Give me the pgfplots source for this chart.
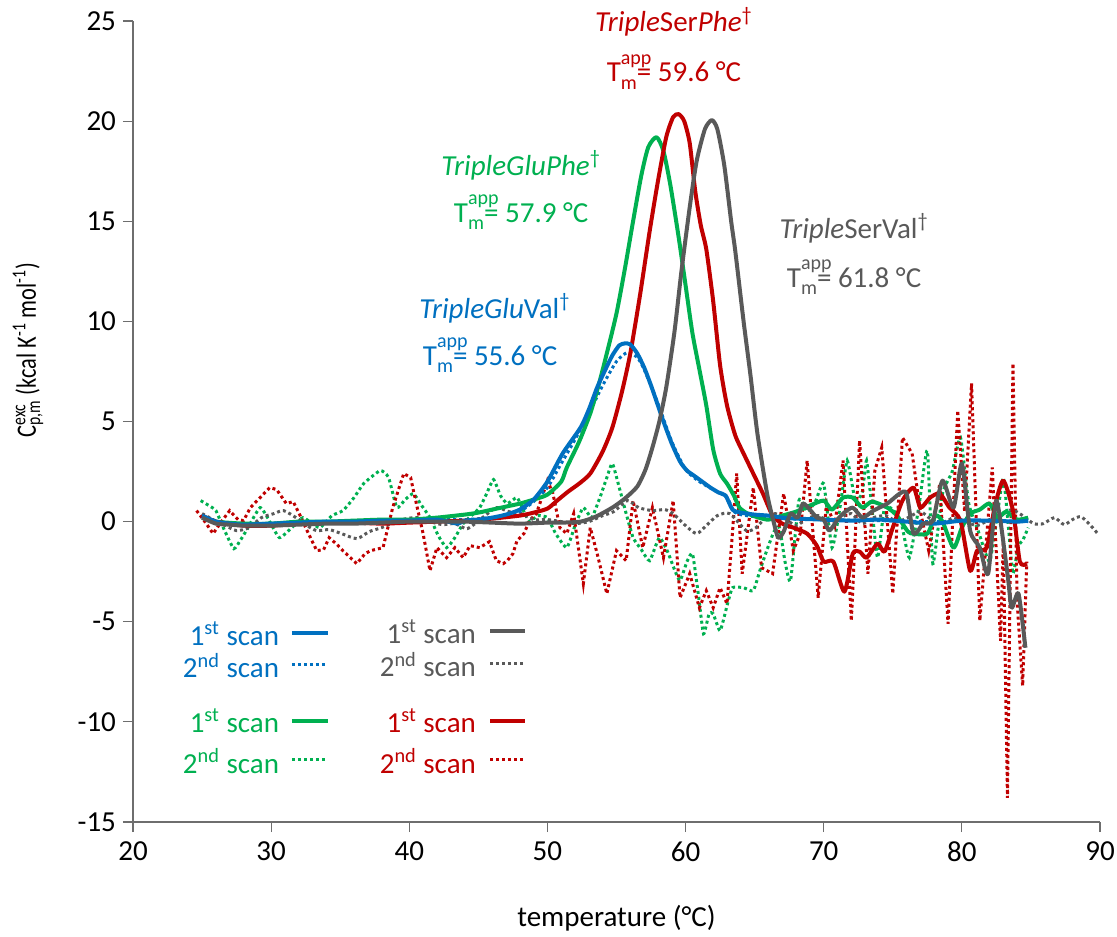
\documentclass[border=0pt]{standalone}
\usepackage{fontspec}
\setmainfont{Carlito}
\usepackage{graphicx}
\usepackage{pgfplots}
\pgfplotsset{compat=1.18}

\definecolor{cblue}{RGB}{0,112,192}
\definecolor{cgreen}{RGB}{0,176,80}
\definecolor{cred}{RGB}{192,0,0}
\definecolor{cgray}{RGB}{89,89,89}
\definecolor{axisgray}{RGB}{110,110,110}

\newcommand{\fs}{\fontsize{14.5}{17}\selectfont}
\newcommand{\sm}{\fontsize{10}{11}\selectfont}
\newcommand{\Tm}[1]{T\rlap{\raisebox{0.6em}{\sm app}}\raisebox{-0.25em}{\sm m}= #1 °C}

\tikzset{
  scan1/.style={line width=2pt, line join=round, smooth, tension=0.4},
  scan2/.style={line width=1.5pt, dash pattern=on 1.5pt off 1.5pt},
  leg/.style={font=\fs, anchor=east, inner xsep=0pt},
}

\begin{document}
\begin{tikzpicture}
\begin{axis}[
    at={(0,0)}, anchor=south west,
    scale only axis, width=483.5pt, height=400.5pt,
    xmin=20, xmax=90, ymin=-15, ymax=25,
    xtick={20,30,...,90}, ytick={-15,-10,...,25},
    axis x line*=bottom, axis y line*=left,
    axis line style={draw=axisgray, line width=0.6pt},
    tick style={draw=axisgray, line width=0.6pt},
    tick align=outside, major tick length=5pt,
    ticklabel style={font=\fs},
    xticklabel style={yshift=-1.5pt},
    /pgf/number format/assume math mode=true,
    xlabel={temperature (°C)},
    ylabel={\scalebox{0.8}[1]{C\rlap{\textsuperscript{exc}}\textsubscript{p,m} (kcal K\textsuperscript{-1} mol\textsuperscript{-1})}},
    xlabel style={font=\fs, at={(axis description cs:0.5,-0.12)}, anchor=center},
    ylabel style={font=\fontsize{14}{16}\selectfont, at={(axis description cs:-0.1086,0.589)}, anchor=center},
    clip=false,
]

% 2nd scans
\addplot[scan2, cgreen, smooth, tension=0.3] coordinates {
(24.9,1.05) (25.5,0.8) (26,0.55) (26.6,-0.4) (27.3,-1.35) (27.8,-0.9) (28.2,-0.45)
(29.2,0.7) (29.9,0.0) (30.6,-0.8) (31.5,-0.3) (32.3,0.2) (33.5,-0.3) (34.4,0.3)
(35.2,0.55) (36.0,1.2) (36.7,1.9) (37.9,2.55) (38.5,2.2) (39.1,0.7) (39.7,1.1)
(40.3,1.4) (40.9,0.8) (41.5,0.2) (42.1,-0.7) (42.7,-1.3) (43.3,-0.8) (43.9,-0.1)
(44.5,0.3) (45.1,0.7) (45.6,1.4) (46.1,2.1) (46.6,1.3) (47.1,0.9) (47.8,1.2)
(48.3,0.5) (48.7,0.0) (49.3,0.3) (50,0.2) (50.6,-0.6) (51.4,-1.3) (52,-0.2)
(52.6,0.7) (53.2,0.2) (53.8,1.2) (54.3,2.2) (54.7,2.9) (55.2,1.7) (55.7,0.4)
(56.2,-0.8) (56.8,-1.4) (57.4,-1.95) (58.1,-0.8) (58.7,-1.5) (59.2,-2.4) (59.6,-2.95)
(60.1,-2.0) (60.5,-1.6) (60.9,-3.5) (61.3,-5.6) (61.7,-4.6) (62.0,-4.6) (62.5,-5.45)
(63,-4.2) (63.4,-3.3) (64.2,-3.3) (64.9,-3.45) (65.4,-2.4) (65.9,-1.4) (66.4,-0.5)
(66.8,-0.3) (67.2,-2.0) (67.6,-2.95) (68.2,1.05) (68.8,0.5) (69.4,1.0) (70,1.9)
(70.6,-1.3) (71.2,0.8) (71.7,3.05) (72.3,1.0) (72.8,1.5) (73.1,3.05) (73.5,0.6)
(73.9,-1.8) (74.4,0.7) (75,0.6) (75.6,0.0) (76.2,-1.8) (76.9,0.8) (77.5,3.55)
(77.9,-2.1) (78.6,1.4) (79.3,2.5) (79.9,4.2) (80.5,0.9) (81.2,-0.5) (82,-2.0)
(82.5,0.0) (83,2.2) (83.4,-0.5) (83.7,-2.6) (84.1,-1.2) (84.4,-0.95) (84.8,-0.3)
};
\addplot[scan2, cred] coordinates {
(24.6,0.55) (25.2,0.0) (25.8,-0.6) (26.4,0.0) (27,0.55) (27.6,0.1) (28,0.05)
(28.5,0.7) (29.2,1.2) (29.9,1.7) (30.4,1.6) (31.1,0.9) (31.6,1.0) (32.1,0.3)
(32.6,-0.45) (33.3,-1.45) (33.8,-1.4) (34.2,-0.8) (34.7,-1.1) (35.2,-1.45) (36.2,-2.1)
(36.8,-1.6) (37.2,-1.45) (38.1,-1.3) (38.8,0.7) (39.6,2.4) (40.1,2.2) (40.3,1.55)
(41,-0.6) (41.5,-2.45) (42,-1.3) (42.7,-1.8) (43.3,-1.3) (43.9,-1.8) (44.4,-1.2)
(45.1,-1.3) (45.8,-1.0) (46.3,-1.95) (46.8,-2.1) (47.1,-1.95) (47.5,-1.6) (47.8,-0.95)
(48.3,-0.6) (48.7,0.05) (49.2,0.4) (49.6,1.2) (50,2.05) (50.4,1.4) (50.9,-0.3)
(51.4,-0.6) (51.9,0.4) (52.6,-3.1) (53.1,-0.3) (53.6,-1.6) (54.3,-3.6) (55,-1.45)
(55.7,-1.95) (56.2,1.05) (56.9,-1.3) (57.6,0.7) (58.4,-1.8) (59.1,1.05) (59.6,-3.8)
(60.3,-2.6) (61,-4.3) (61.5,-3.45) (62,-4.3) (62.5,-3.3) (63,-4.1) (63.4,-0.5)
(63.7,2.4) (64.1,-2.6) (64.9,1.7) (65.5,-2.3) (66.3,-2.6) (67.1,1.4) (67.8,-1.45)
(68.3,-0.6) (68.8,3.05) (69.6,-3.8) (70.2,0.9) (70.8,-0.2) (71.4,3.05) (72,-4.95)
(72.6,4.05) (73.2,-2.6) (73.7,2.55) (74.2,3.7) (75,-3.6) (75.7,4.2) (76.4,3.4)
(77,0.5) (77.6,-1.45) (78.4,1.9) (79,-5.1) (79.7,5.55) (80.2,0.5) (80.7,6.9)
(81.3,-4.95) (82.2,2.7) (82.8,-5.95) (83.0,-1.0) (83.3,-13.8) (83.7,7.9) (84.0,-4.0)
(84.4,-8.2) (84.7,-2.0)
};
\addplot[scan2, cgray, smooth, tension=0.4] coordinates {
(25,0.4) (25.8,0.1) (26.7,-0.2) (27.5,-0.45) (28.4,-0.3) (29.3,0.2) (30.2,0.4)
(30.9,0.55) (31.8,0.2) (32.6,-0.2) (33.3,-0.45) (34.2,-0.4) (35.1,-0.6) (36.2,-0.85)
(37.1,-0.5) (38.0,-0.3) (39,0.0) (39.8,0.15) (40.6,0.2) (41.5,0.0) (42.4,-0.15)
(43.3,-0.1) (44.2,-0.35) (45.3,0.2) (46.3,0.7) (47.2,0.5) (48.1,0.4) (49,0.1)
(50,0.1) (51,0.0) (52,-0.1) (53,0.0) (54,0.3) (54.8,0.5) (55.8,1.05) (56.6,0.7)
(57.6,0.55) (58.5,0.6) (59.1,0.4) (60,-0.2) (60.8,-0.6) (61.5,-0.2) (62.3,0.3)
(63.2,0.4) (64.4,-0.45) (65.1,-0.3) (65.8,0.2) (66.5,0.4) (67.3,0.1) (68,-0.2)
(68.8,0.15) (69.6,0.3) (70.4,0.0) (71.2,0.2) (72,0.4) (72.8,-0.1) (73.6,0.2)
(74.5,0.3) (75.3,0.0) (76.1,0.2) (77,0.5) (77.8,0.1) (78.6,-0.1) (79.4,0.2)
(80.3,0.0) (81.1,-0.2) (82,0.1) (82.8,0.3) (83.6,0.6) (84.4,0.3) (85.2,-0.1)
(85.9,-0.1) (86.7,0.2) (87.4,-0.15) (88.0,0.1) (88.6,0.25) (89.2,-0.1) (89.9,-0.65)
};
\addplot[scan2, cblue, smooth, tension=0.4] coordinates {
(25,0.2) (26,0.0) (28,-0.15) (30,-0.1) (32,-0.05) (34,0.0) (36,0.0) (38,0.05)
(40,0.05) (42,0.1) (44,0.1) (46,0.2) (47,0.3) (48,0.5) (49,1.0) (50,1.7) (51,2.9)
(52,4.1) (53,5.4) (54,6.8) (55,8.0) (55.8,8.45) (56.5,8.2) (57,7.6) (58,5.9)
(59,4.0) (60,2.6) (61,2.0) (62,1.6) (63,1.2) (63.5,0.5) (64,0.35) (65,0.25)
(67,0.15) (70,0.1) (74,0.05) (78,0.0) (82,0.05) (84.8,0.0)
};

% 1st scans
\addplot[scan1, cgreen] coordinates {
(25,0.2) (26,0.0) (28,-0.1) (30,-0.1) (32,0.0) (34,0.0) (36,0.05) (38,0.1)
(40,0.1) (42,0.2) (44,0.35) (45,0.45) (46,0.6) (47,0.75) (48,0.9) (49,1.1)
(50,1.35) (51,2.0) (51.4,2.7) (52.3,4.0) (53.1,5.4) (53.7,6.8) (54.3,8.4)
(55,10.4) (55.6,12.6) (56.2,15.0) (56.8,17.3) (57.3,18.7) (57.9,19.2) (58.4,18.5)
(58.9,16.8) (59.5,14.2) (60,11.8) (60.5,9.4) (61,7.6) (61.5,5.8) (62,3.6)
(62.5,2.4) (63,1.9) (63.5,1.3) (63.9,0.7) (64.5,0.4) (65.3,0.2) (66,0.1)
(67,0.3) (68,0.5) (69,0.8) (70,1.05) (70.6,0.6) (71.4,1.2) (72.1,1.2) (72.8,0.7)
(73.5,1.0) (74.6,0.7) (75.3,0.3) (76.1,-0.5) (76.5,-0.6) (77.5,-0.6) (78.1,0.3)
(78.6,0.0) (79.4,-1.3) (80,-0.3) (80.6,0.4) (81.3,0.6) (82,0.9) (82.6,0.2)
(83.2,0.5) (84,0.1) (84.8,0.2)
};
\addplot[scan1, cred] coordinates {
(25,0.3) (26,0.0) (28,-0.2) (30,-0.2) (32,-0.1) (34,-0.05) (36,-0.05) (38,-0.1)
(40,-0.05) (42,0.0) (44,0.05) (46,0.15) (48,0.3) (49,0.45) (50,0.65) (50.7,1.05)
(51.5,1.5) (52.3,1.9) (53.1,2.4) (54,3.5) (54.7,4.7) (55.4,6.5) (56,8.4)
(56.7,11.3) (57.4,14.5) (58,17.0) (58.6,19.2) (59.1,20.2) (59.5,20.35) (59.9,20.0)
(60.3,18.9) (60.7,16.5) (61.1,14.8) (61.5,13.6) (62,11.0) (62.5,7.8) (63,5.8)
(63.6,4.3) (64.2,3.4) (64.9,2.4) (65.6,1.4) (66.3,0.3) (67,-0.1) (67.8,-0.3)
(68.8,-0.6) (69.5,-1.2) (70,-2.0) (70.7,-2.0) (71.5,-3.5) (72.1,-1.6) (72.6,-1.5)
(73.1,-1.8) (73.9,-1.1) (74.4,-1.5) (75,-0.3) (75.7,1.05) (76.5,1.7) (77,0.7)
(77.7,1.2) (78.4,1.4) (79.1,0.7) (79.9,0.05) (80.6,-2.45) (81.1,-1.45) (81.8,-1.3)
(82.4,0.8) (83,2.05) (83.7,0.55) (84.2,-2.0) (84.7,-2.1)
};
\addplot[scan1, cblue] coordinates {
(25,0.3) (26,0.0) (27,-0.1) (28,-0.15) (30,-0.1) (32,-0.05) (34,0.0) (36,0.0)
(38,0.05) (40,0.05) (42,0.1) (43.5,-0.1) (44,0.05) (45,0.1) (46,0.2) (47,0.35)
(48,0.6) (49,1.1) (50,2.0) (51.1,3.4) (52.4,4.7) (53,5.6) (53.6,6.7) (54.2,7.6)
(54.7,8.3) (55.2,8.8) (55.6,8.9) (56.0,8.85) (56.5,8.4) (57,7.7) (57.5,6.8)
(58,5.8) (58.4,5.0) (59,3.9) (59.6,3.0) (60.1,2.55) (60.6,2.3) (61.2,2.0)
(61.8,1.7) (62.4,1.45) (62.9,1.3) (63.4,0.6) (64,0.45) (65,0.35) (66,0.3)
(67,0.2) (68,0.15) (70,0.1) (72,0.05) (74,0.1) (76,0.0) (78,-0.1) (80,0.05)
(82,0.05) (84,0.0) (84.8,0.05)
};
\addplot[scan1, cgray] coordinates {
(25,0.2) (26,-0.1) (27,-0.15) (28,-0.2) (30,-0.2) (32,-0.15) (34,-0.1) (36,-0.1)
(38,-0.05) (40,0.0) (42,0.0) (44,0.0) (46,-0.05) (48,-0.1) (50,-0.05) (51,-0.05)
(52.4,0.0) (53.5,0.25) (54.7,0.7) (55.6,1.15) (56.5,1.75) (57.1,2.6) (57.6,3.7)
(58.1,5.0) (58.6,6.7) (59.2,9.5) (59.7,12.5) (60.3,15.7) (60.8,18.0) (61.4,19.6)
(61.9,20.05) (62.3,19.6) (62.8,17.8) (63.3,15.0) (63.6,13.5) (64.2,10.0) (64.7,7.3)
(65.2,4.4) (65.9,1.4) (66.3,0.2) (66.7,-0.8) (67.1,-0.5) (67.6,0.4) (68.1,0.2)
(68.5,0.9) (69,0.6) (69.5,0.2) (70,0.1) (70.4,-0.45) (71,0.1) (71.4,0.4) (72.1,0.7)
(72.8,0.2) (73.6,0.55) (74.6,0.9) (75.5,1.4) (76,1.4) (76.5,-0.6) (77.2,-0.1)
(77.9,0.05) (78.6,2.05) (79.4,0.7) (80,2.9) (80.6,-0.45) (81.3,-1.3) (81.9,-2.6)
(82.5,1.05) (83.3,-2.6) (83.6,-4.3) (84.1,-3.6) (84.6,-6.3)
};

% annotations
\node[font=\fs, text=cred] at (axis cs:59.16,24.95) {\textit{Triple}Ser\textit{Phe}\textsuperscript{\textdagger}};
\node[font=\fs, text=cred] at (axis cs:59.16,22.45) {\Tm{59.6}};
\node[font=\fs, text=cgreen] at (axis cs:48.1,17.8) {\textit{TripleGluPhe}\textsuperscript{\textdagger}};
\node[font=\fs, text=cgreen] at (axis cs:48.1,15.45) {\Tm{57.9}};
\node[font=\fs, text=cgray] at (axis cs:72.2,14.65) {\textit{Triple}SerVal\textsuperscript{\textdagger}};
\node[font=\fs, text=cgray] at (axis cs:72.2,12.2) {\Tm{61.8}};
\node[font=\fs, text=cblue] at (axis cs:46.2,10.65) {\textit{TripleGlu}Val\textsuperscript{\textdagger}};
\node[font=\fs, text=cblue] at (axis cs:45.85,8.3) {\Tm{55.6}};

% legend
\node[leg, text=cblue] at (axis cs:30.6,-5.6) {1\textsuperscript{st} scan};
\node[leg, text=cblue] at (axis cs:30.6,-7.2) {2\textsuperscript{nd} scan};
\node[leg, text=cgreen] at (axis cs:30.6,-9.95) {1\textsuperscript{st} scan};
\node[leg, text=cgreen] at (axis cs:30.6,-11.95) {2\textsuperscript{nd} scan};
\node[leg, text=cgray] at (axis cs:44.85,-5.5) {1\textsuperscript{st} scan};
\node[leg, text=cgray] at (axis cs:44.85,-7.15) {2\textsuperscript{nd} scan};
\node[leg, text=cred] at (axis cs:44.85,-9.95) {1\textsuperscript{st} scan};
\node[leg, text=cred] at (axis cs:44.85,-11.95) {2\textsuperscript{nd} scan};
\draw[cblue, line width=2pt] (axis cs:31.5,-5.55) -- (axis cs:34.1,-5.55);
\draw[cblue, scan2] (axis cs:31.5,-7.15) -- (axis cs:33.9,-7.15);
\draw[cgreen, line width=2pt] (axis cs:31.5,-9.95) -- (axis cs:34.1,-9.95);
\draw[cgreen, scan2] (axis cs:31.5,-11.9) -- (axis cs:33.9,-11.9);
\draw[cgray, line width=2pt] (axis cs:45.85,-5.45) -- (axis cs:48.4,-5.45);
\draw[cgray, scan2] (axis cs:45.85,-7.1) -- (axis cs:48.2,-7.1);
\draw[cred, line width=2pt] (axis cs:45.85,-9.95) -- (axis cs:48.4,-9.95);
\draw[cred, scan2] (axis cs:45.85,-11.9) -- (axis cs:48.2,-11.9);
\end{axis}
\pgfresetboundingbox
\path[use as bounding box] (-66.5pt,-57pt) rectangle (492pt,411pt);
\end{tikzpicture}
\end{document}
